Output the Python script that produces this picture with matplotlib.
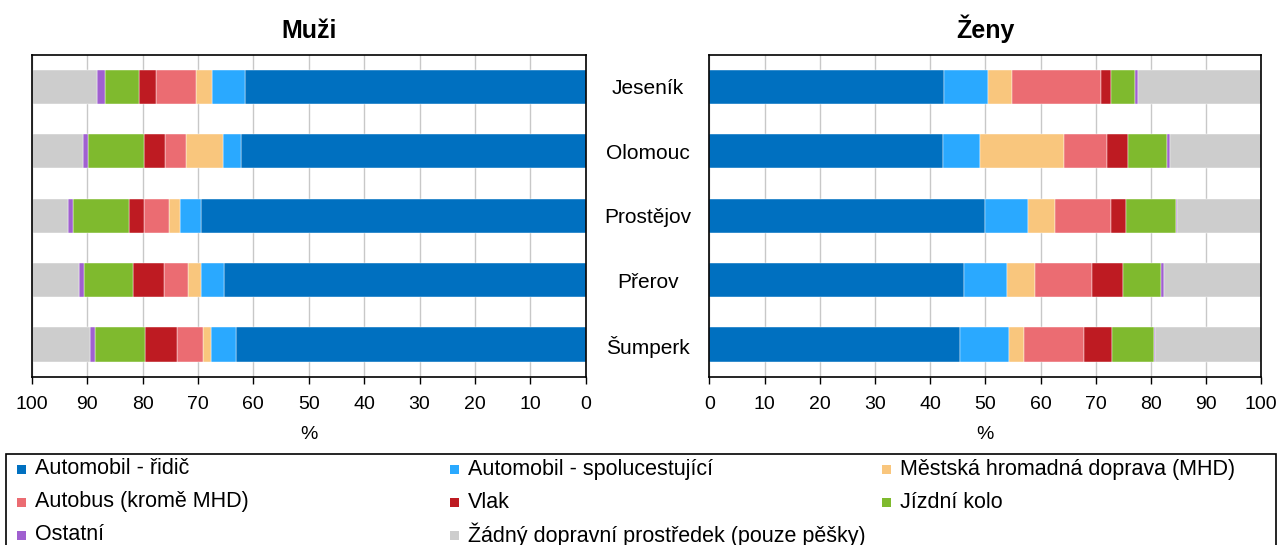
import matplotlib
matplotlib.use("Agg")
import matplotlib.pyplot as plt
from matplotlib.patches import Rectangle
import numpy as np

plt.rcParams['font.family'] = ['Liberation Sans', 'DejaVu Sans']

# data (% of commuters by mode of transport)
districts = ["Jeseník", "Olomouc", "Prostějov", "Přerov", "Šumperk"]
modes = ["Automobil - řidič", "Automobil - spolucestující",
         "Městská hromadná doprava (MHD)", "Autobus (kromě MHD)", "Vlak",
         "Jízdní kolo", "Ostatní", "Žádný dopravní prostředek (pouze pěšky)"]
colors = ["#0070C0", "#2AA9FF", "#F9C67D", "#EB6C72", "#BE1B22",
          "#7FBA2E", "#A060D0", "#CDCDCD"]

# rows = districts, columns = modes
men = [
    [61.5, 5.9, 2.9, 7.2, 3.2, 6.0, 1.5, 11.8],
    [62.2, 3.2, 6.8, 3.7, 3.9, 10.1, 0.9, 9.2],
    [69.4, 3.8, 2.1, 4.5, 2.7, 10.0, 0.9, 6.6],
    [65.3, 4.1, 2.3, 4.5, 5.6, 8.8, 0.9, 8.5],
    [63.1, 4.5, 1.4, 4.8, 5.7, 9.0, 0.9, 10.6],
]
women = [
    [42.6, 7.8, 4.5, 16.1, 1.8, 4.4, 0.5, 22.3],
    [42.4, 6.6, 15.3, 7.8, 3.8, 7.1, 0.4, 16.6],
    [49.9, 7.9, 4.8, 10.1, 2.7, 9.1, 0.3, 15.2],
    [46.2, 7.8, 5.0, 10.4, 5.6, 6.9, 0.4, 17.7],
    [45.5, 8.8, 2.8, 10.8, 5.1, 7.5, 0.3, 19.1],
]

W, H = 1280, 545
fig = plt.figure(figsize=(W / 100, H / 100), dpi=100)

ax_m = fig.add_axes([31.7 / W, 1 - 376.7 / H, 554 / W, 322 / H])
ax_f = fig.add_axes([709.3 / W, 1 - 376.7 / H, 552 / W, 322 / H])


def stacked(ax, data):
    vals = np.array(data)
    y = np.arange(len(districts))
    left = np.zeros(len(districts))
    for j in range(vals.shape[1]):
        ax.barh(y, vals[:, j], left=left, height=0.53, color=colors[j],
                edgecolor='white', linewidth=0.3, zorder=2)
        left += vals[:, j]
    ax.set_ylim(len(districts) - 0.5, -0.5)
    ax.set_xticks(np.arange(0, 101, 10))
    ax.grid(axis='x', color='#c8c8c8', linewidth=1, zorder=0)
    ax.set_axisbelow(True)
    ax.tick_params(axis='x', direction='out', length=5, width=1,
                   labelsize=14, pad=9)
    ax.tick_params(axis='y', length=0)
    for s in ax.spines.values():
        s.set_linewidth(1.2)
        s.set_color('black')
    ax.set_xlabel('%', fontsize=14, labelpad=9)


stacked(ax_m, men)
ax_m.set_xlim(100, 0)
ax_m.set_yticks([])
ax_m.set_title("Muži", fontsize=18, fontweight='bold', pad=12)

stacked(ax_f, women)
ax_f.set_xlim(0, 100)
ax_f.set_yticks(np.arange(len(districts)))
ax_f.set_yticklabels(districts, fontsize=15)
ax_f.tick_params(axis='y', pad=44.3)
for lab in ax_f.get_yticklabels():
    lab.set_horizontalalignment('center')
ax_f.set_title("Ženy", fontsize=18, fontweight='bold', pad=12)

# legend box (drawn by hand to get the even column layout)
fig.patches.append(Rectangle((6 / W, -0.05), 1269.6 / W, 0.05 + (545 - 454) / H,
                             transform=fig.transFigure, fill=False,
                             edgecolor='black', linewidth=1.2))
order = [[0, 1, 2], [3, 4, 5], [6, 7]]
col_x = [17, 450, 882]
row_y = [469, 502, 535]
for r, row in enumerate(order):
    for c, k in enumerate(row):
        x0 = col_x[c]
        y0 = row_y[r]
        fig.patches.append(Rectangle((x0 / W, 1 - (y0 + 4.5) / H), 9 / W, 9 / H,
                                     transform=fig.transFigure,
                                     facecolor=colors[k], edgecolor='none'))
        fig.text((x0 + 18) / W, 1 - y0 / H, modes[k], fontsize=15.5,
                 va='center', ha='left')

fig.savefig("out.png", dpi=100)
